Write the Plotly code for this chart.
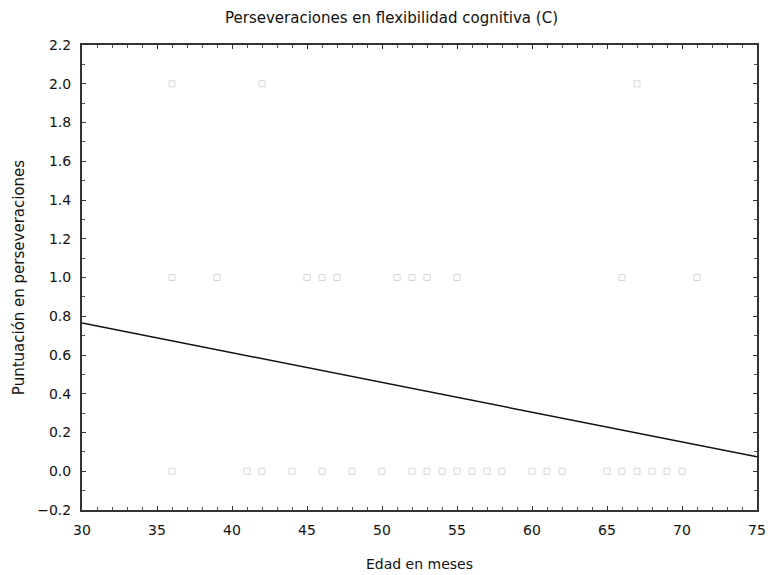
import plotly.graph_objects as go

# Observed data (age in months, perseveration score)
x_score2 = [36, 42, 67]
x_score1 = [36, 39, 45, 46, 47, 51, 52, 53, 55, 66, 71]
x_score0 = [36, 41, 42, 44, 46, 48, 50, 52, 53, 54, 55, 56, 57, 58, 60, 61, 62, 65, 66, 67, 68, 69, 70]

# Fitted regression line endpoints
line_x = [30, 75]
line_y = [0.765, 0.075]

xs = x_score2 + x_score1 + x_score0
ys = [2.0] * len(x_score2) + [1.0] * len(x_score1) + [0.0] * len(x_score0)

fig = go.Figure()
fig.add_trace(go.Scatter(
    x=xs, y=ys, mode="markers",
    marker=dict(symbol="square-open", size=6, color="#d6d6d6", line=dict(width=1, color="#d6d6d6")),
    showlegend=False, hoverinfo="skip"))
fig.add_trace(go.Scatter(
    x=line_x, y=line_y, mode="lines",
    line=dict(color="#111111", width=1.5),
    showlegend=False))

font = "DejaVu Sans, Verdana, sans-serif"
fig.update_layout(
    width=783, height=575,
    margin=dict(l=82, r=26, t=45, b=65),
    paper_bgcolor="white", plot_bgcolor="white",
    font=dict(family=font, size=14, color="#111111"),
    title=dict(text="Perseveraciones en flexibilidad cognitiva (C)", x=0.5, xanchor="center",
               y=1 - 18 / 575, yanchor="middle", font=dict(size=15)),
)
fig.update_xaxes(
    range=[30, 75], tickmode="linear", tick0=30, dtick=5, automargin=False,
    showgrid=False, zeroline=False,
    showline=True, linecolor="#333333", linewidth=2, mirror="ticks",
    ticks="inside", ticklen=4, tickcolor="#333333",
    minor=dict(dtick=1, ticks="inside", ticklen=3, tickcolor="#555555"),
    tickfont=dict(size=14), ticklabelstandoff=6,
    title=dict(text="Edad en meses", font=dict(size=14), standoff=22),
)
fig.update_yaxes(
    range=[-0.2, 2.2], tickmode="linear", tick0=-0.2, dtick=0.2, tickformat=".1f", automargin=False,
    showgrid=False, zeroline=False,
    showline=True, linecolor="#333333", linewidth=2, mirror="ticks",
    ticks="inside", ticklen=4, tickcolor="#333333",
    minor=dict(dtick=0.1, ticks="inside", ticklen=3, tickcolor="#555555"),
    tickfont=dict(size=14), ticklabelstandoff=6,
    title=dict(text="Puntuación en perseveraciones", font=dict(size=15), standoff=9),
)

fig.write_html("out.html")
